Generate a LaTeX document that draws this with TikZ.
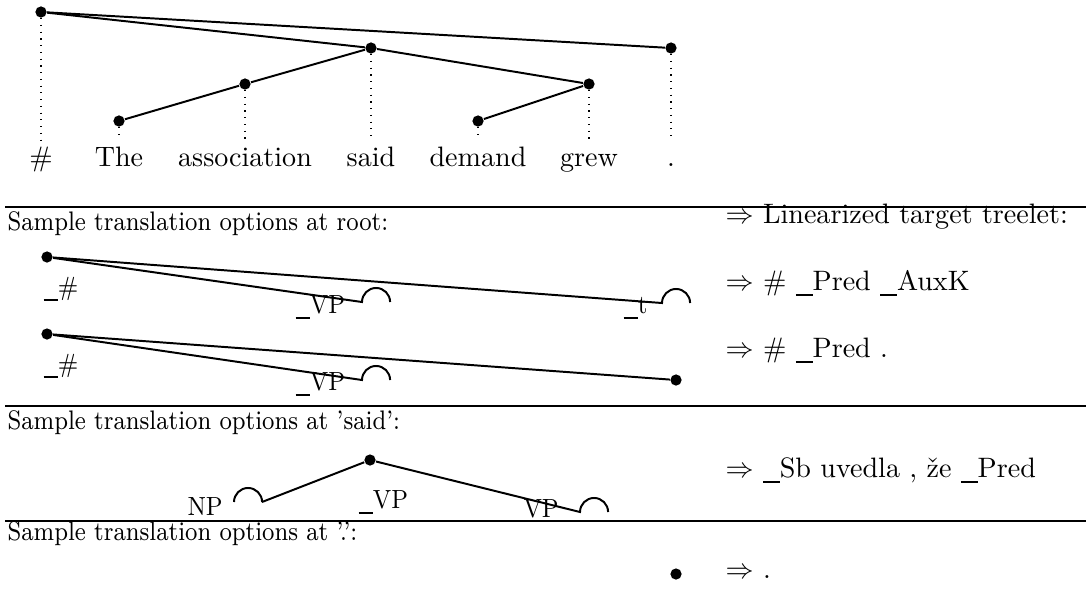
\documentclass[tikz,border=0pt]{standalone}
\newcommand{\uscore}{\rule[-0.21em]{0.6em}{0.055em}}
\begin{document}
\begin{tikzpicture}[x=0.356pt, y=-0.356pt,
  dot/.style={circle, fill, inner sep=0pt, minimum size=4pt},
  word/.style={anchor=base, inner sep=2pt, text height=6.94pt, text depth=1.94pt, font=\fontsize{10}{12}\selectfont},
  head/.style={anchor=base west, inner sep=0pt, yscale=1.15, font=\fontsize{8.3}{10}\selectfont},
  lbl/.style={anchor=base west, inner sep=0pt, yscale=1.1, font=\fontsize{8.5}{10}\selectfont},
  lin/.style={anchor=base west, inner sep=0pt, font=\fontsize{10}{12}\selectfont},
  edge/.style={line width=0.7pt},
  rule/.style={line width=1pt}]
  \useasboundingbox (0,0) rectangle (1086,590);

  \node[dot] (root) at (41,12) {};
  \node[dot] (said) at (371,48) {};
  \node[dot] (stop) at (671,48) {};
  \node[dot] (assoc) at (245,84) {};
  \node[dot] (grew) at (589,84) {};
  \node[dot] (the) at (119,121) {};
  \node[dot] (demand) at (478,121) {};

  \node[word] (w0) at (41,166) {\#};
  \node[word] (w1) at (119,166) {The};
  \node[word] (w2) at (245,166) {association};
  \node[word] (w3) at (371,166) {said};
  \node[word] (w4) at (478,166) {demand};
  \node[word] (w5) at (589,166) {grew};
  \node[word] (w6) at (671,166) {.};

  \draw[edge] (root) -- (said);
  \draw[edge] (root) -- (stop);
  \draw[edge] (said) -- (assoc);
  \draw[edge] (said) -- (grew);
  \draw[edge] (assoc) -- (the);
  \draw[edge] (grew) -- (demand);

  \draw[dotted] (root) -- (w0.north);
  \draw[dotted] (the) -- (w1.north);
  \draw[dotted] (assoc) -- (w2.north);
  \draw[dotted] (said) -- (w3.north);
  \draw[dotted] (demand) -- (w4.north);
  \draw[dotted] (grew) -- (w5.north);
  \draw[dotted] (stop) -- (w6.north);

  \coordinate (rule1l) at (5,207);
  \coordinate (rule1r) at (1086,207);
  \coordinate (rule2l) at (5,406);
  \coordinate (rule2r) at (1086,406);
  \coordinate (rule3l) at (5,521);
  \coordinate (rule3r) at (1086,521);
  \draw[rule] (rule1l) -- (rule1r);
  \draw[rule] (rule2l) -- (rule2r);
  \draw[rule] (rule3l) -- (rule3r);

  \node[head] (head1) at (7,230) {Sample translation options at root:};
  \node[lin] (lin0) at (725,223) {$\Rightarrow$ Linearized target treelet:};

  \node[dot] (opt1) at (47,257) {};
  \node[lbl] (opt1h) at (43,295) {\uscore\#};
  \node[lbl] (opt1vp) at (295,313) {\uscore VP};
  \node[lbl] (opt1t) at (623,313) {\uscore t};
  \coordinate (opt1a) at (362,302);
  \coordinate (opt1b) at (662,303);
  \draw[edge] (opt1) -- (opt1a) arc[start angle=180, end angle=0, radius=5pt];
  \draw[edge] (opt1) -- (opt1b) arc[start angle=180, end angle=0, radius=5pt];
  \node[lin] (lin1) at (725,290) {$\Rightarrow$ \# \uscore Pred \uscore AuxK};

  \node[dot] (opt2) at (47,334) {};
  \node[dot] (opt2e) at (676,380) {};
  \node[lbl] (opt2h) at (43,372) {\uscore\#};
  \node[lbl] (opt2vp) at (295,390) {\uscore VP};
  \coordinate (opt2a) at (362,380);
  \draw[edge] (opt2) -- (opt2a) arc[start angle=180, end angle=0, radius=5pt];
  \draw[edge] (opt2) -- (opt2e);
  \node[lin] (lin2) at (725,357) {$\Rightarrow$ \# \uscore Pred .};

  \node[head] (head2) at (7,429) {Sample translation options at 'said':};
  \node[dot] (opt3) at (370,460) {};
  \node[lbl] (opt3np) at (187,515) {NP};
  \node[lbl] (opt3vp) at (358,508) {\uscore VP};
  \node[lbl] (opt3vpr) at (523,517) {VP};
  \coordinate (opt3a) at (234,502);
  \coordinate (opt3b) at (262,502);
  \coordinate (opt3c) at (580,512);
  \draw[edge] (opt3a) arc[start angle=180, end angle=0, radius=5pt];
  \draw[edge] (opt3) -- (opt3b);
  \draw[edge] (opt3) -- (opt3c) arc[start angle=180, end angle=0, radius=5pt];
  \node[lin] (lin3) at (725,477) {$\Rightarrow$ \uscore Sb uvedla , že \uscore Pred};

  \node[head] (head3) at (7,540) {Sample translation options at '.':};
  \node[dot] (opt4) at (676,574) {};
  \node[lin] (lin4) at (725,578) {$\Rightarrow$ .};
\end{tikzpicture}
\end{document}
